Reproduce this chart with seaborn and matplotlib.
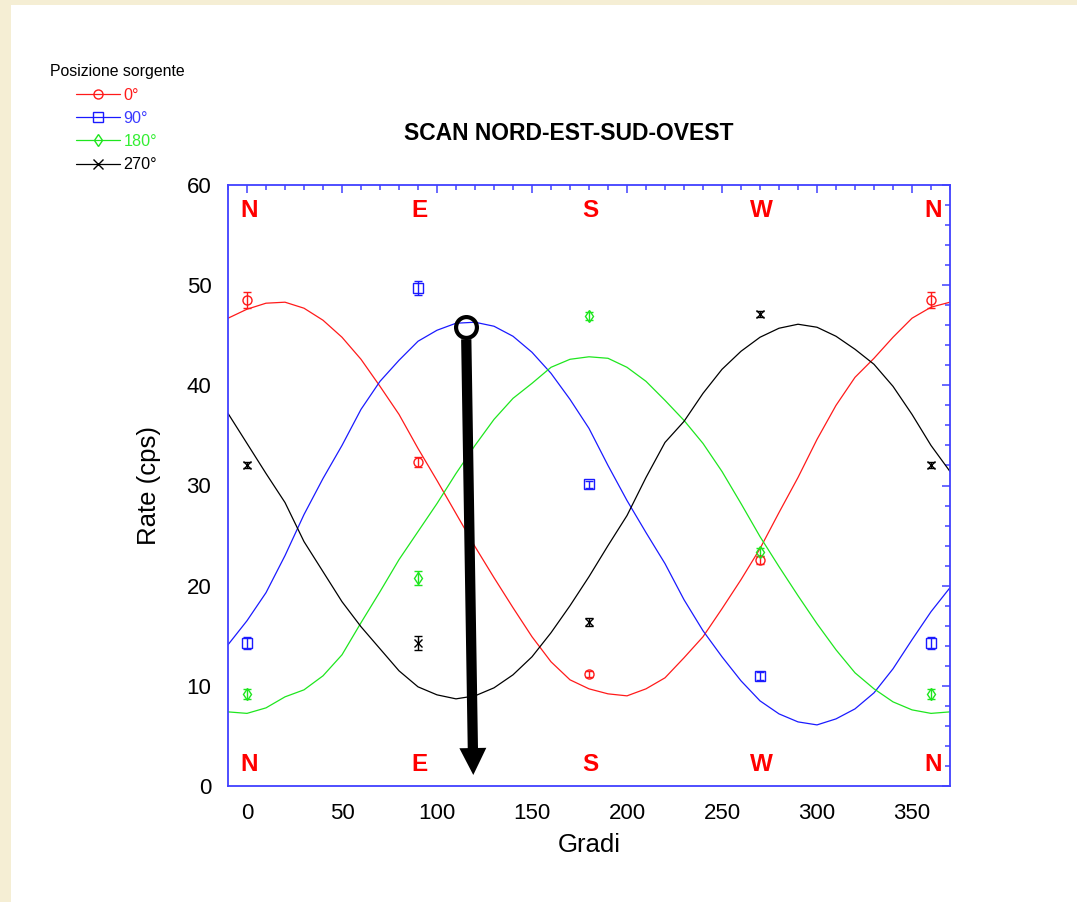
import numpy as np
import pandas as pd
import matplotlib
matplotlib.use("Agg")
import matplotlib.pyplot as plt
from matplotlib.lines import Line2D
from matplotlib.patches import Rectangle
from matplotlib.ticker import MultipleLocator
import seaborn as sns

# ---------------- data ----------------
series_names = ["0°", "90°", "180°", "270°"]
series_colors = ["#ff1a1a", "#1a1aff", "#1ee61e", "#000000"]
legend_text_colors = ["#ff1a1a", "#3a3aff", "#33ee33", "#000000"]
series_markers = ["o", "s", "d", "x"]

fit_angles = [-10, 0, 10, 20, 30, 40, 50, 60, 70, 80, 90, 100, 110, 120, 130,
              140, 150, 160, 170, 180, 190, 200, 210, 220, 230, 240, 250, 260,
              270, 280, 290, 300, 310, 320, 330, 340, 350, 360, 370]

fit_0 = [46.7, 47.6, 48.2, 48.3, 47.7, 46.5, 44.8, 42.6, 39.9, 37.1, 33.7, 30.5,
         27.2, 23.9, 20.8, 17.8, 14.9, 12.4, 10.6, 9.7, 9.2, 9.0, 9.7, 10.8,
         12.8, 14.9, 17.7, 20.6, 23.7, 27.3, 30.8, 34.6, 38.0, 40.8, 42.7,
         44.8, 46.7, 47.8, 48.3]
fit_90 = [14.1, 16.5, 19.3, 23.0, 27.1, 30.7, 34.0, 37.6, 40.4, 42.5, 44.4, 45.5,
          46.2, 46.3, 45.9, 44.9, 43.3, 41.2, 38.6, 35.7, 32.0, 28.5, 25.3, 22.2,
          18.6, 15.5, 12.9, 10.5, 8.5, 7.2, 6.4, 6.1, 6.7, 7.7, 9.3, 11.7, 14.6,
          17.4, 19.8]
fit_180 = [7.4, 7.25, 7.8, 8.9, 9.6, 11.0, 13.1, 16.3, 19.4, 22.6, 25.4, 28.2,
           31.2, 34.0, 36.6, 38.7, 40.2, 41.8, 42.6, 42.85, 42.7, 41.8, 40.4,
           38.5, 36.5, 34.2, 31.4, 28.2, 24.9, 21.9, 19.0, 16.2, 13.6, 11.3, 9.7,
           8.4, 7.6, 7.25, 7.4]
fit_270 = [37.2, 34.2, 31.2, 28.3, 24.4, 21.4, 18.4, 15.9, 13.7, 11.5, 9.9, 9.1,
           8.7, 9.0, 9.8, 11.1, 12.9, 15.3, 18.0, 20.9, 24.0, 27.0, 30.8, 34.3,
           36.4, 39.2, 41.6, 43.4, 44.8, 45.7, 46.1, 45.8, 44.9, 43.6, 42.1, 39.9,
           37.1, 34.0, 31.4]

meas_angles = [0, 90, 180, 270, 360]
meas_0 = [48.5, 32.3, 11.2, 22.6, 48.5]
err_0 = [0.8, 0.5, 0.3, 0.4, 0.8]
meas_90 = [14.3, 49.7, 30.1, 11.0, 14.3]
err_90 = [0.6, 0.7, 0.3, 0.4, 0.6]
meas_180 = [9.2, 20.8, 46.9, 23.4, 9.2]
err_180 = [0.5, 0.7, 0.4, 0.4, 0.5]
meas_270 = [32.0, 14.3, 16.4, 47.1, 32.0]
err_270 = [0.3, 0.7, 0.4, 0.3, 0.3]

compass_labels = ["N", "E", "S", "W", "N"]
compass_angles = [0, 90, 180, 270, 360]

x_ticks = [0, 50, 100, 150, 200, 250, 300, 350]
y_ticks = [0, 10, 20, 30, 40, 50, 60]

# annotation (circle + arrow) anchor points in data units
circle_pt = (115.3, 45.8)
arrow_start = (115.4, 44.6)
arrow_tip = (119.1, 1.1)

# ---------------- style ----------------
sns.set_style("white")
plt.rcParams["font.family"] = ["Liberation Sans", "DejaVu Sans"]
plt.rcParams["text.color"] = "black"
plt.rcParams["axes.labelcolor"] = "black"
plt.rcParams["xtick.color"] = "black"
plt.rcParams["ytick.color"] = "black"

fig = plt.figure(figsize=(10.77, 9.02), dpi=100)
fig.patch.set_facecolor("#f5eed4")
fig.patches.append(Rectangle((11 / 1077, 0), 1, 1 - 5 / 902,
                             transform=fig.transFigure, facecolor="white",
                             edgecolor="none", zorder=-10))

ax = fig.add_axes([228 / 1077, 1 - 786 / 902, (950 - 228) / 1077, (786 - 185) / 902])
ax.set_facecolor("white")

fits = [fit_0, fit_90, fit_180, fit_270]
df = pd.concat([pd.DataFrame({"Gradi": fit_angles, "Rate": f, "Serie": n})
                for f, n in zip(fits, series_names)], ignore_index=True)
sns.lineplot(data=df, x="Gradi", y="Rate", hue="Serie", hue_order=series_names,
             palette=series_colors, ax=ax, legend=False, linewidth=0.9,
             estimator=None, sort=True)

meas = [meas_0, meas_90, meas_180, meas_270]
errs = [err_0, err_90, err_180, err_270]
for m, e, c, mk in zip(meas, errs, series_colors, series_markers):
    ax.errorbar(meas_angles, m, yerr=e, fmt=mk, ms=6.5 if mk != "x" else 6,
                mfc="none", mec=c, mew=1.0, ecolor=c, elinewidth=1.0,
                capsize=3.0, capthick=1.0, zorder=5)

for lab, ang in zip(compass_labels, compass_angles):
    ax.text(ang + 1, 56.8, lab, color="red", fontsize=17.5, fontweight="bold",
            ha="center", va="baseline")
    ax.text(ang + 1, 1.5, lab, color="red", fontsize=17.5, fontweight="bold",
            ha="center", va="baseline")

# circle and arrow
ax.plot([circle_pt[0]], [circle_pt[1]], marker="o", ms=15, mew=3,
        mec="black", mfc="none", zorder=7, clip_on=False)
ax.annotate("", xy=arrow_tip, xytext=arrow_start,
            arrowprops=dict(arrowstyle="simple,head_length=0.97,head_width=0.97,tail_width=0.37",
                            color="black", lw=0, shrinkA=0, shrinkB=0,
                            mutation_scale=20),
            zorder=6)

ax.set_xlim(-10, 370)
ax.set_ylim(0, 60)
ax.set_xticks(x_ticks)
ax.set_yticks(y_ticks)
ax.xaxis.set_minor_locator(MultipleLocator(10))
ax.yaxis.set_minor_locator(MultipleLocator(2))
spine_col = "#4040ff"
ax.tick_params(which="both", direction="in", top=True, right=True,
               color=spine_col, width=1.1, labelsize=16, labelcolor="black")
ax.tick_params(which="major", length=6, pad=12)
ax.tick_params(which="minor", length=3.8)
for s in ax.spines.values():
    s.set_color(spine_col)
    s.set_linewidth(1.3)
    s.set_visible(True)

ax.set_xlabel("Gradi", fontsize=18.5, labelpad=7, color="black")
ax.set_ylabel("Rate (cps)", fontsize=18.5, labelpad=18, color="black")

fig.text(569 / 1077, 1 - 140 / 902, "SCAN NORD-EST-SUD-OVEST", fontsize=16.5,
         fontweight="bold", ha="center", va="baseline", color="black")

# legend
fig.text(50 / 1077, 1 - 76 / 902, "Posizione sorgente", fontsize=11.4,
         ha="left", va="baseline", color="black")
handles = [Line2D([0], [0], color=c, lw=0.9, marker=mk, ms=6.5,
                  mfc="none", mec=c, mew=1.0)
           for c, mk in zip(series_colors, series_markers)]
fig.legend(handles, series_names, loc="upper left",
           bbox_to_anchor=(76 / 1077, 1 - 88 / 902), frameon=False,
           fontsize=11.6, handlelength=2.75, handletextpad=0.2,
           labelspacing=0.5, borderpad=0, borderaxespad=0,
           labelcolor=legend_text_colors, numpoints=1)

fig.savefig("out.png", dpi=100, facecolor=fig.get_facecolor())
